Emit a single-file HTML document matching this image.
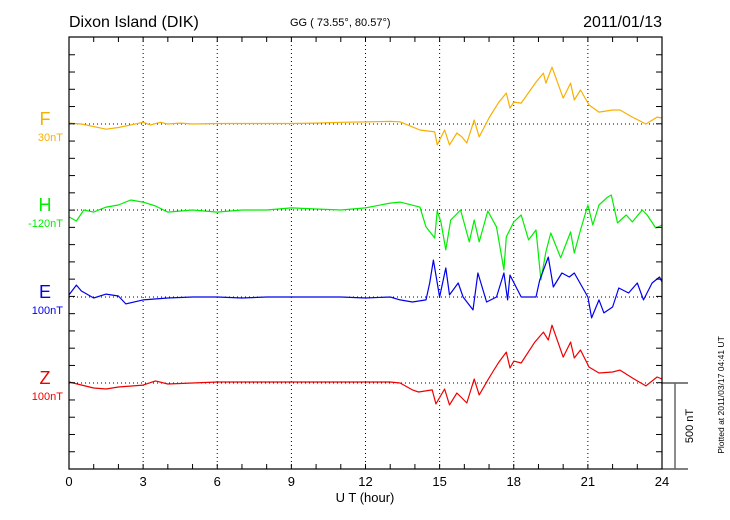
<!DOCTYPE html>
<html><head><meta charset="utf-8"><style>
html,body{margin:0;padding:0;background:#fff;}
svg{display:block;font-family:"Liberation Sans",sans-serif;}
</style></head><body>
<svg id="chart" width="730" height="520" viewBox="0 0 730 520" xmlns="http://www.w3.org/2000/svg">
<text x="69" y="27" font-size="16" fill="#000">Dixon Island (DIK)</text>
<text x="290" y="26" font-size="11" fill="#000">GG ( 73.55°,  80.57°)</text>
<text x="662" y="27" font-size="16" fill="#000" text-anchor="end">2011/01/13</text>
<g id="grid"></g>
<g id="series"></g>
<g id="axes"></g>
<text x="365" y="502" font-size="13" text-anchor="middle" fill="#000">U T (hour)</text>
<line x1="662" y1="383" x2="688" y2="383" stroke="#000" stroke-width="1"/>
<line x1="662" y1="469" x2="688" y2="469" stroke="#000" stroke-width="1"/>
<line x1="675" y1="383" x2="675" y2="469" stroke="#666" stroke-width="1.5"/>
<text transform="translate(693,426) rotate(-90)" font-size="11" text-anchor="middle" fill="#000">500 nT</text>
<text transform="translate(724,395) rotate(-90)" font-size="8.5" text-anchor="middle" fill="#000">Plotted at 2011/03/17 04:41 UT</text>
</svg>
<script>
const xTickLabels = ["0","3","6","9","12","15","18","21","24"];
const compNames = ["F","H","E","Z"];
const compOffsets = ["30nT","-120nT","100nT","100nT"];
const compColors = ["#f8b000","#00ee00","#0000ee","#ee0000"];
const fTimes = [0,0.5,1,1.5,2,2.5,3,3.3,3.7,4,4.5,5,6,7,8,9,10,11,12,13,13.4,14.2,14.8,14.9,15.2,15.4,15.7,15.9,16.1,16.4,16.6,17,17.4,17.7,17.85,18,18.3,18.9,19.2,19.3,19.55,20,20.3,20.45,20.7,21.05,21.45,22,22.3,22.8,23.35,23.8,24];
const fVals = [5,0,-15,-30,-20,-5,10,-5,10,0,5,0,3,3,3,3,5,10,12,15,13,-35,-46,-121,-35,-121,-52,-75,-110,23,-75,35,127,179,92,127,121,243,295,237,329,150,237,139,197,110,69,81,81,40,0,40,35];
const hTimes = [0,0.3,0.6,1,1.5,2,2.5,3,3.5,4,5,6,7,8,9,10,11,12,13,13.4,14.2,14.45,14.8,14.9,15.05,15.25,15.45,15.85,16.2,16.4,16.6,16.95,17.3,17.6,17.7,18,18.3,18.6,18.9,19.1,19.3,19.5,19.9,20.3,20.45,20.7,21,21.2,21.45,21.8,21.95,22.2,22.55,22.8,23.2,23.4,23.75,24];
const hVals = [-40,-64,0,-12,17,29,58,46,23,-12,0,-12,0,0,12,6,0,12,40,46,17,-98,-162,-6,-69,-231,-58,0,-185,-58,-185,-6,-98,-347,-156,-69,-29,-173,-116,-405,-243,-133,-277,-127,-249,-116,29,-87,29,75,87,-75,-29,-69,0,-29,-104,-87];
const eTimes = [0,0.3,0.5,1,1.5,2,2.3,3,4,5,6,7,8,9,10,11,12,13,13.4,13.9,14.45,14.6,14.75,15,15.25,15.4,15.75,15.95,16.35,16.55,16.9,17.3,17.6,17.75,17.85,18.3,18.9,19.05,19.4,19.6,19.95,20.25,20.45,21,21.15,21.45,21.65,22,22.25,22.65,23,23.25,23.6,23.9,24];
const eVals = [12,69,35,-6,17,6,-40,-17,-6,0,0,-6,0,0,0,0,-6,0,-17,-29,-17,81,214,0,168,12,81,0,-75,139,-29,0,139,-17,127,0,0,98,231,58,139,116,139,0,-121,-17,-92,-58,52,23,81,-17,81,116,87];
const zTimes = [0,1,1.5,2,3,3.5,4,5,6,8,10,12,13,13.4,13.9,14.15,14.7,14.85,15.2,15.4,15.7,15.9,16.1,16.4,16.6,16.95,17.15,17.4,17.7,17.85,18,18.3,18.85,19.2,19.4,19.55,20,20.3,20.45,20.7,21.05,21.45,22,22.3,22.8,23.35,23.8,24];
const zVals = [6,-29,-35,-23,-12,12,-6,0,6,6,6,6,6,0,-40,-52,-40,-121,-35,-127,-58,-87,-116,23,-69,17,64,121,179,87,127,116,237,295,249,335,150,237,145,191,92,58,64,75,29,-17,35,23];

const X0=69,X1=662,Y0=37,Y1=469;
const baselines=[124,210,297,383];
const pxPerNT=86.3/500;
function xs(h){return X0+(X1-X0)*h/24;}
function ys(i,v){return baselines[i]-v*pxPerNT;}
const NS="http://www.w3.org/2000/svg";
function mk(tag,attrs,parent){const e=document.createElementNS(NS,tag);for(const k in attrs)e.setAttribute(k,attrs[k]);parent.appendChild(e);return e;}
const grid=document.getElementById('grid'),axes=document.getElementById('axes'),ser=document.getElementById('series'),svg=document.getElementById('chart');
for(let h=3;h<24;h+=3){
 const l=mk('line',{x1:xs(h),y1:Y0,x2:xs(h),y2:Y1,stroke:'#000','stroke-width':1,'stroke-dasharray':'1,3'},grid);
 
 
}
baselines.forEach((b,i)=>{
 const l=mk('line',{x1:X0,y1:b,x2:X1,y2:b,stroke:'#000','stroke-width':1,'stroke-dasharray':'1,3'},grid);
 
 
});
const frame=mk('rect',{x:X0,y:Y0,width:X1-X0,height:Y1-Y0,fill:'none',stroke:'#000','stroke-width':1.2},axes);


for(let h=1;h<24;h++){
 const t1=mk('line',{x1:xs(h),y1:Y0,x2:xs(h),y2:Y0+5,stroke:'#000'},axes);
 
 
 const t2=mk('line',{x1:xs(h),y1:Y1,x2:xs(h),y2:Y1-5,stroke:'#000'},axes);
 
 
}
for(let k=1;k<25;k++){
 const y=Y1-k*pxPerNT*100;
 const a=mk('line',{x1:X0,y1:y,x2:X0+6,y2:y,stroke:'#000'},axes);
 
 
 const b=mk('line',{x1:X1,y1:y,x2:X1-6,y2:y,stroke:'#000'},axes);
 
 
}
xTickLabels.forEach((t,i)=>{
 const e=mk('text',{x:xs(i*3),y:486,'font-size':13,'text-anchor':'middle',fill:'#000'},axes);
 e.textContent=t;
 
 
});
compNames.forEach((n,i)=>{
 const a=mk('text',{x:45,y:baselines[i]+1,'font-size':18,'text-anchor':'middle',fill:compColors[i]},svg);
 a.textContent=n;
 
 
 const b=mk('text',{x:63,y:baselines[i]+17,'font-size':11,'text-anchor':'end',fill:compColors[i]},svg);
 b.textContent=compOffsets[i];
 
 
});
const allT=[fTimes,hTimes,eTimes,zTimes],allV=[fVals,hVals,eVals,zVals];
allT.forEach((T,i)=>{
 const d=T.map((t,j)=>(j?'L':'M')+xs(t).toFixed(1)+','+ys(i,allV[i][j]).toFixed(1)).join(' ');
 const p=mk('path',{d:d,fill:'none',stroke:compColors[i],'stroke-width':1.2,'stroke-linejoin':'round'},ser);
 
 
});
</script>
</body></html>
